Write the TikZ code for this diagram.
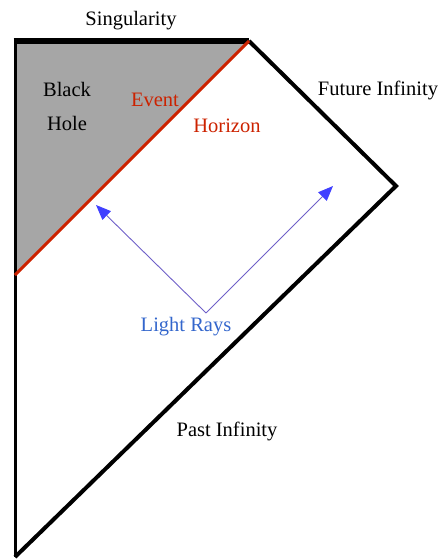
\documentclass[tikz,border=0pt]{standalone}
\usepackage{fontspec}
\setmainfont{Liberation Serif}
\usetikzlibrary{arrows.meta}

\definecolor{holegray}{RGB}{166,166,166}
\definecolor{horizonred}{RGB}{204,34,0}
\definecolor{raycol}{RGB}{110,95,200}
\definecolor{raytip}{RGB}{64,64,255}
\definecolor{raytext}{RGB}{51,102,204}

\begin{document}
\begin{tikzpicture}
[
	x=1pt,
	y=-1pt,
	lbl/.style={inner sep=0pt,font=\fontsize{20.5}{24}\selectfont},
	edge/.style={line width=4pt,black},
	ray/.style={raycol,line width=0.9pt,-{Triangle[length=15pt,width=12pt,color=raytip]}}
]

	\useasboundingbox (0,0) rectangle (441,559);

	% corners of the diagram
	\coordinate (sl) at (15,41);
	\coordinate (sr) at (249,41);
	\coordinate (fi) at (396,186);
	\coordinate (bot) at (15,557);
	\coordinate (eh) at (15,275);

	% black hole region
	\fill[holegray] (sl) -- (sr) -- (eh) -- cycle;

	% boundaries
	\draw[line width=3pt] (sl) -- (bot);
	\draw[edge,line join=miter] (sr) -- (fi) -- (bot);
	\draw[line width=6pt] ([xshift=-1.5pt]sl) -- (sr);
	\draw[horizonred,line width=3pt] (sr) -- (eh);

	% light rays
	\coordinate (src) at (206,313);
	\coordinate (rayl) at (96,205);
	\coordinate (rayr) at (333,186);
	\draw[ray] (src) -- (rayl);
	\draw[ray] (src) -- (rayr);

	% labels
	\node[lbl] (sing) at (131,21) {Singularity};
	\node[lbl] (black) at (67,89) {Black};
	\node[lbl] (hole) at (67,123) {Hole};
	\node[lbl,horizonred] (event) at (155,100) {Event};
	\node[lbl,horizonred] (horizon) at (227,126) {Horizon};
	\node[lbl] (future) at (378,90) {Future Infinity};
	\node[lbl,raytext] (rays) at (186,327) {Light Rays};
	\node[lbl] (past) at (227,431) {Past Infinity};

\end{tikzpicture}
\end{document}
